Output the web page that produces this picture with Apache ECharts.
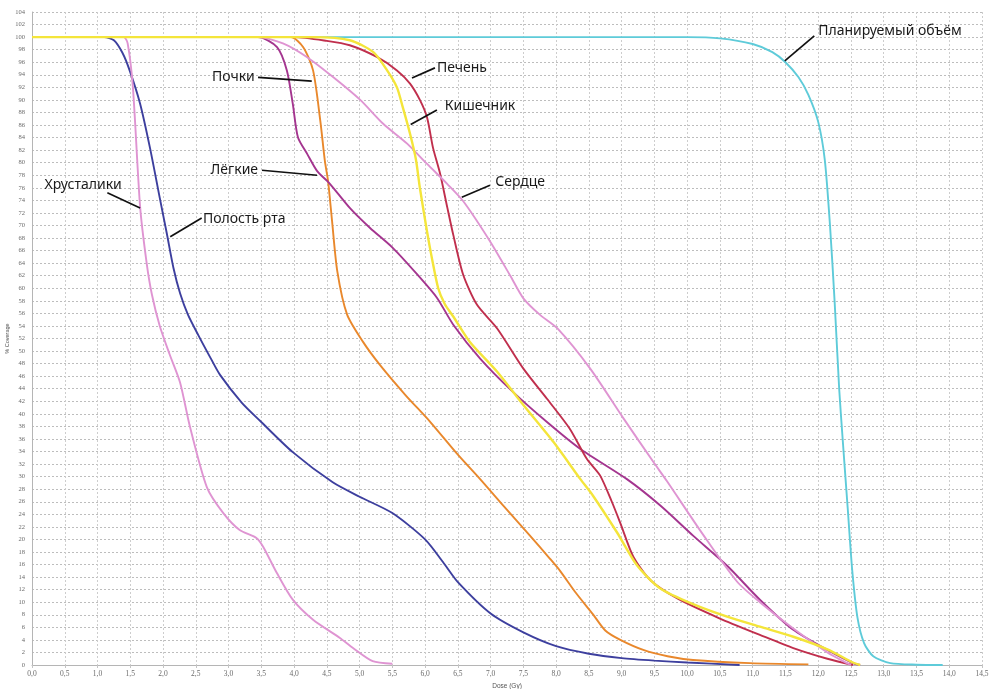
<!DOCTYPE html>
<html>
<head>
<meta charset="utf-8">
<script src="https://cdn.jsdelivr.net/npm/echarts@6/dist/echarts.min.js"></script>
<style>
  html, body { margin: 0; padding: 0; background: #fff; }
  #chart { width: 992px; height: 689px; }
</style>
</head>
<body>
<div id="chart"></div>
<script>
// Dose-volume histogram: % coverage of each structure against dose (Gy)

// axis settings
const doseMax = 14.5;
const doseStep = 0.5;
const coverageMax = 104;
const coverageStep = 2;
const doseAxisTitle = 'Dose (Gy)';
const coverageAxisTitle = '% Coverage';

// structure names
const names = ['Планируемый объём', 'Полость рта', 'Хрусталики', 'Почки', 'Лёгкие', 'Печень', 'Сердце', 'Кишечник'];

// [dose Gy, coverage %] per structure
const ptv = [[0,100],[10.0,100],[10.5,99.8],[11.0,98.9],[11.3,97.6],[11.5,96.0],[11.7,93.6],[11.85,90.8],[12.0,86.5],[12.1,80.5],[12.18,70],[12.25,58],[12.32,44],[12.38,35],[12.45,25],[12.52,15],[12.6,7.5],[12.7,3.5],[12.84,1.4],[13.1,0.3],[13.5,0.05],[13.9,0]];
const oralCavity = [[0,100],[1.1,100],[1.25,99.5],[1.38,97.5],[1.49,94.7],[1.65,89.4],[1.8,82.4],[1.95,74.4],[2.06,68.6],[2.16,63.2],[2.26,59.2],[2.38,55.8],[2.54,52.5],[2.72,49],[2.87,46.2],[3.2,41.8],[3.48,38.9],[3.98,33.9],[4.59,29.1],[5.0,26.8],[5.5,24.2],[6.0,20],[6.3,16],[6.5,13.2],[7.0,8.2],[7.5,5.2],[8.0,3.0],[8.5,1.8],[9.0,1.1],[9.5,0.7],[10.0,0.4],[10.8,0]];
const lenses = [[0,100],[1.4,100],[1.46,99],[1.54,92],[1.65,73],[1.75,64],[1.83,59],[1.95,54],[2.1,49.5],[2.26,45],[2.41,38],[2.67,28.3],[2.92,24.2],[3.17,21.5],[3.43,20.2],[3.53,18.8],[3.74,14.6],[3.98,10.4],[4.29,7.2],[4.7,4.3],[4.9,2.7],[5.2,0.6],[5.5,0.2]];
const kidneys = [[0,100],[3.95,100],[4.14,98.4],[4.29,94.7],[4.4,86.7],[4.47,80.3],[4.52,77],[4.58,70.7],[4.66,62.7],[4.81,55.8],[5.05,51.5],[5.31,47.8],[5.7,43],[6.08,38.7],[6.5,33.5],[6.84,29.6],[7.2,25.3],[7.6,20.6],[7.9,17],[8.06,15],[8.3,11.5],[8.56,8.1],[8.75,5.5],[8.98,4.0],[9.33,2.4],[9.7,1.4],[10.09,0.8],[10.96,0.3],[11.85,0.1]];
const lungs = [[0,100],[3.45,100],[3.74,98.4],[3.89,94.7],[3.98,89.4],[4.06,84],[4.2,81.4],[4.35,78.7],[4.55,76.6],[4.85,72.8],[5.16,69.6],[5.51,66.4],[5.88,62.2],[6.18,58.5],[6.43,54.2],[6.84,48.8],[7.34,43.5],[7.86,38.7],[8.37,34.4],[9.08,29.6],[9.59,25.4],[10.09,20.6],[10.61,15.8],[11.11,10.4],[11.62,5.6],[12.14,2.4],[12.53,0.3],[12.64,0]];
const liver = [[0,100],[4.0,100],[4.5,99.4],[4.85,98.7],[5.27,96.8],[5.57,94.7],[5.77,92.6],[5.92,90],[6.03,87.2],[6.12,82.4],[6.23,78.2],[6.34,72.8],[6.43,68.5],[6.58,62.2],[6.79,57.4],[7.1,53.6],[7.5,47.2],[7.86,42.4],[8.21,37.6],[8.47,32.8],[8.67,30.2],[8.85,26],[8.98,22.6],[9.18,17.2],[9.44,13.5],[9.85,10.6],[10.5,7.4],[11.11,4.8],[11.62,2.7],[12.14,1.0],[12.53,0]];
const heart = [[0,100],[3.45,100],[3.83,99],[4.2,96.8],[4.6,93.6],[5.01,90],[5.36,86.2],[5.73,83],[6.03,79.8],[6.34,76.6],[6.58,73.9],[6.99,67.5],[7.3,62],[7.5,58.4],[7.75,55.8],[8.02,53.6],[8.52,47.2],[9.02,39.4],[9.48,32.4],[9.69,29.3],[10.24,20.8],[10.76,13.3],[11.11,10],[11.62,5.8],[12.14,2.0],[12.44,0.3],[12.5,0]];
const intestine = [[0,100],[4.3,100],[4.85,99.5],[5.21,97.6],[5.42,94.7],[5.57,92],[5.66,88.8],[5.77,84.6],[5.86,80.5],[5.92,76],[6.03,69],[6.1,65],[6.2,60],[6.3,57.5],[6.43,55.5],[6.68,51.5],[7.1,46.7],[7.5,41.4],[7.96,35.5],[8.37,29.6],[8.56,27.0],[8.93,21.1],[9.24,15.8],[9.59,12.2],[10.09,9.7],[10.61,7.7],[11.11,6.1],[11.62,4.5],[12.14,2.5],[12.53,0.4],[12.64,0]];

const seriesData = [ptv, oralCavity, lenses, kidneys, lungs, liver, heart, intestine];
const colors = ['#5ecbd9', '#3d3f9e', '#df94d2', '#e9882c', '#a4358f', '#c02f4d', '#df94d2', '#f4e53a'];

// callouts: text anchor and leader line, in data units
const callouts = [
  { text: 'Хрусталики', at: [1.37, 76.4], align: 'right', from: [1.15, 75.2], to: [1.65, 72.8] },
  { text: 'Полость рта', at: [2.61, 71.0], align: 'left', from: [2.59, 71.2], to: [2.11, 68.2] },
  { text: 'Почки', at: [3.40, 93.6], align: 'right', from: [3.45, 93.6], to: [4.27, 93.0] },
  { text: 'Лёгкие', at: [3.45, 78.8], align: 'right', from: [3.51, 78.8], to: [4.35, 78.0] },
  { text: 'Печень', at: [6.18, 95.1], align: 'left', from: [6.15, 95.1], to: [5.80, 93.5] },
  { text: 'Кишечник', at: [6.30, 89.0], align: 'left', from: [6.18, 88.4], to: [5.78, 86.1] },
  { text: 'Сердце', at: [7.07, 76.9], align: 'left', from: [6.99, 76.4], to: [6.56, 74.5] },
  { text: 'Планируемый объём', at: [12.0, 101.0], align: 'left', from: [11.94, 100.2], to: [11.49, 96.2] }
];

const chart = echarts.init(document.getElementById('chart'), null, { renderer: 'canvas' });

const tickFamily = 'Liberation Serif';
const tickColor = '#6a6a6a';

chart.setOption({
  animation: false,
  backgroundColor: '#ffffff',
  grid: { left: 32, right: 10, top: 12, bottom: 24, containLabel: false, outerBoundsMode: 'none' },
  xAxis: {
    type: 'value', min: 0, max: doseMax, interval: doseStep,
    name: doseAxisTitle, nameLocation: 'middle', nameGap: 18, nameMoveOverlap: false,
    nameTextStyle: { fontFamily: 'Liberation Sans', fontSize: 6.5, color: '#555' },
    axisLine: { show: true, onZero: false, lineStyle: { color: '#b5b5b5', width: 1 } },
    axisTick: { show: true, length: 3, lineStyle: { color: '#c4c4c4' } },
    axisLabel: { margin: 5, fontFamily: tickFamily, fontSize: 7.5, color: tickColor,
                 formatter: v => v.toFixed(1).replace('.', ',') },
    splitLine: { show: true, lineStyle: { color: '#cdcdcd', type: [2, 2], width: 1 } }
  },
  yAxis: {
    type: 'value', min: 0, max: coverageMax, interval: coverageStep,
    name: coverageAxisTitle, nameLocation: 'middle', nameGap: 22, nameRotate: 90, nameMoveOverlap: false,
    nameTextStyle: { fontFamily: 'Liberation Sans', fontSize: 5.5, color: '#555' },
    axisLine: { show: true, onZero: false, lineStyle: { color: '#b5b5b5', width: 1 } },
    axisTick: { show: false },
    axisLabel: { margin: 7, fontFamily: tickFamily, fontSize: 6.5, color: tickColor },
    splitLine: { show: true, lineStyle: { color: '#bdbdbd', type: [2, 2], width: 1 } }
  },
  series: seriesData.map((d, i) => ({
    name: names[i],
    type: 'line',
    data: d,
    showSymbol: false,
    smooth: 0.25,
    lineStyle: { color: colors[i], width: i === 7 ? 2.4 : 1.9 },
    z: 2 + i
  }))
});

// leader lines and callout texts placed through the chart's coordinate system
function drawCallouts() {
  const els = [];
  callouts.forEach(c => {
    const p1 = chart.convertToPixel({ gridIndex: 0 }, c.from);
    const p2 = chart.convertToPixel({ gridIndex: 0 }, c.to);
    const pt = chart.convertToPixel({ gridIndex: 0 }, c.at);
    els.push({
      type: 'line',
      shape: { x1: p1[0], y1: p1[1], x2: p2[0], y2: p2[1] },
      style: { stroke: '#111', lineWidth: 1.7 },
      z: 20
    });
    els.push({
      type: 'text',
      x: pt[0], y: pt[1],
      style: {
        text: c.text,
        fill: '#1a1a1a',
        font: '14px "Noto Sans"',
        align: c.align,
        verticalAlign: 'middle'
      },
      z: 20
    });
  });
  chart.setOption({ graphic: els });
}
drawCallouts();
</script>
</body>
</html>
